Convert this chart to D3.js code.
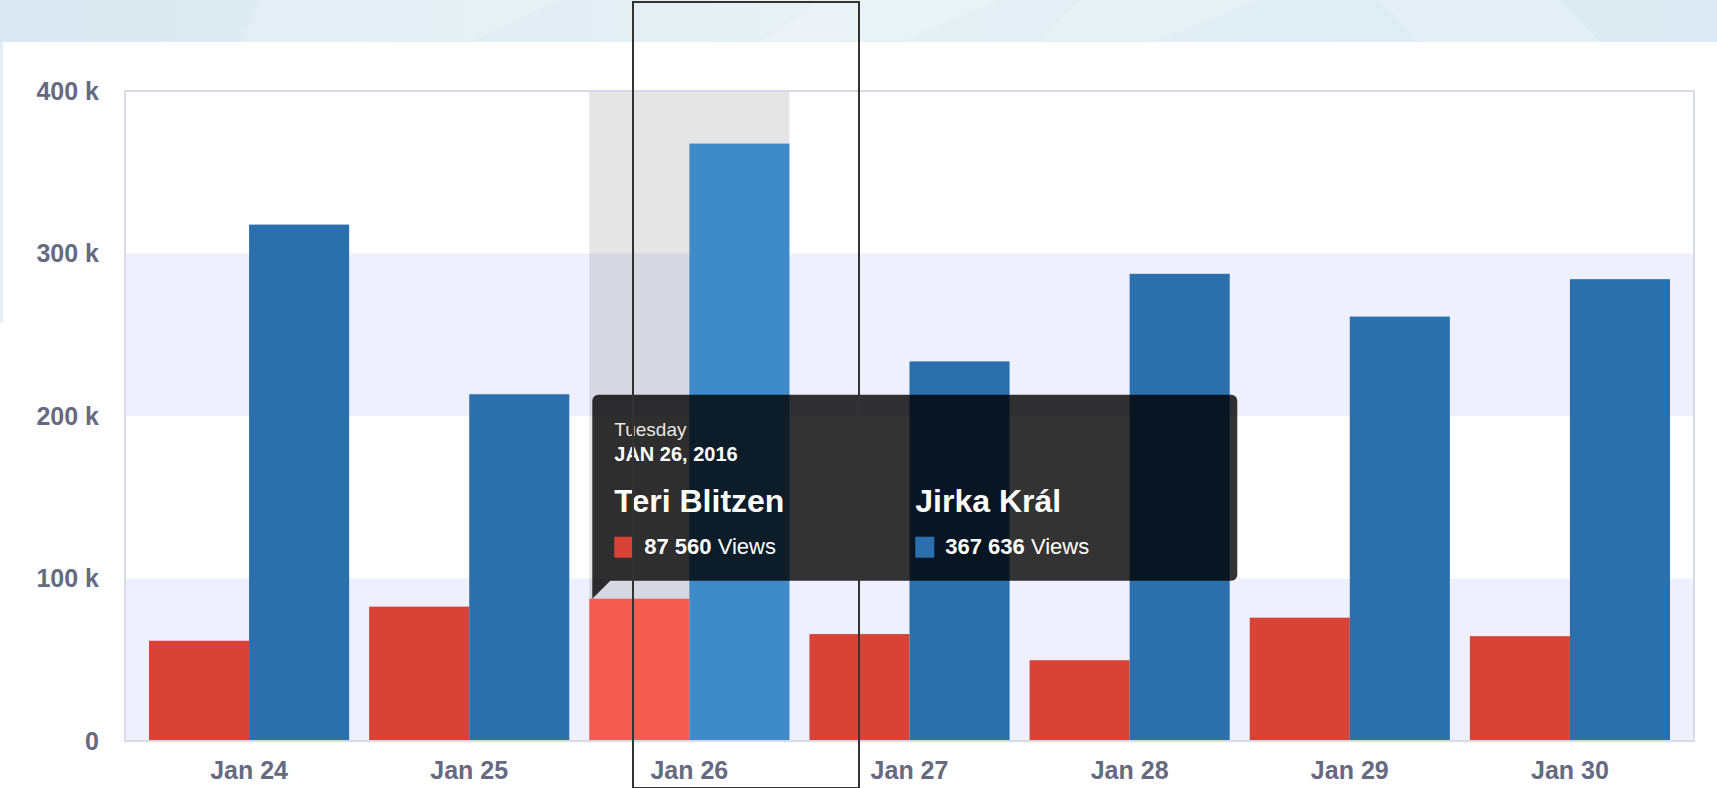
<!DOCTYPE html>
<html>
<head>
<meta charset="utf-8">
<script src="https://cdn.jsdelivr.net/npm/d3@7"></script>
<style>
    html, body { margin: 0; padding: 0; background: #fff; overflow: hidden; }
    svg { display: block; font-family: "Liberation Sans", Arial, Helvetica, sans-serif; }
</style>
</head>
<body>
<div id="chart"></div>
<script>
// Daily views per author
const days = ["Jan 24", "Jan 25", "Jan 26", "Jan 27", "Jan 28", "Jan 29", "Jan 30"];
const seriesNames = ["Teri Blitzen", "Jirka Král"];
const teriViews = [61700, 82700, 87560, 65800, 49700, 75900, 64500];
const jirkaViews = [317800, 213400, 367636, 233600, 287500, 261200, 284200];
const yTicks = [0, 100000, 200000, 300000, 400000];

// Hovered column and its tooltip header
const hoverIndex = 2;
const tooltipWeekday = "Tuesday";
const tooltipDate = "JAN 26, 2016";

const W = 1717, H = 788;
const plot = { left: 125, right: 1694, top: 91, bottom: 741 };
const colors = ["#d94337", "#2b70ad"];
const hoverColors = ["#f55b50", "#3f8bc9"];

const svg = d3.select("#chart").append("svg")
    .attr("width", W)
    .attr("height", H);

// Page banner at the top
const defs = svg.append("defs");
const grad = defs.append("linearGradient").attr("id", "banner")
    .attr("x1", "0%").attr("x2", "100%");
grad.append("stop").attr("offset", "0%").attr("stop-color", "#dae8f1");
grad.append("stop").attr("offset", "45%").attr("stop-color", "#e6f0f5");
grad.append("stop").attr("offset", "100%").attr("stop-color", "#dcebf3");
svg.append("rect").attr("x", 0).attr("y", 0).attr("width", W).attr("height", 42)
    .attr("fill", "url(#banner)");
[[260, 0, 560, 0, 470, 42, 240, 42], [820, 0, 1000, 0, 900, 42, 760, 42],
 [1080, 0, 1260, 0, 1150, 42, 1040, 42], [1380, 0, 1560, 0, 1600, 42, 1420, 42]]
    .forEach(p => {
        svg.append("polygon")
            .attr("points", `${p[0]},${p[1]} ${p[2]},${p[3]} ${p[4]},${p[5]} ${p[6]},${p[7]}`)
            .attr("fill", "#ffffff").attr("opacity", 0.18);
    });
svg.append("rect").attr("x", 0).attr("y", 42).attr("width", 3).attr("height", 280)
    .attr("fill", "#e3eef4");

// Scales
const x0 = d3.scaleBand()
    .domain(days)
    .range([139, 1680])
    .paddingInner(20 / 220)
    .paddingOuter(10 / 220);

const x1 = d3.scaleBand()
    .domain(seriesNames)
    .range([0, x0.bandwidth()]);

const y = d3.scaleLinear()
    .domain([0, 400000])
    .range([plot.bottom, plot.top]);

// Alternating plot bands
const g = svg.append("g");
d3.pairs(yTicks).forEach((pair, i) => {
    if (i % 2 === 0) {
        g.append("rect")
            .attr("x", plot.left)
            .attr("y", y(pair[1]))
            .attr("width", plot.right - plot.left)
            .attr("height", y(pair[0]) - y(pair[1]))
            .attr("fill", "#eef0fd");
    }
});

// Hover highlight
g.append("rect")
    .attr("x", x0(days[hoverIndex]))
    .attr("y", plot.top)
    .attr("width", x0.bandwidth())
    .attr("height", plot.bottom - plot.top)
    .attr("fill", "rgba(0,0,0,0.1)");

// Bars
const rows = days.map((d, i) => ({ day: d, i, values: [teriViews[i], jirkaViews[i]] }));
const groups = g.selectAll("g.day")
    .data(rows)
    .enter().append("g")
    .attr("class", "day")
    .attr("transform", d => `translate(${x0(d.day)},0)`);

groups.selectAll("rect")
    .data(d => d.values.map((v, k) => ({ v, k, hover: d.i === hoverIndex })))
    .enter().append("rect")
    .attr("x", d => x1(seriesNames[d.k]))
    .attr("y", d => y(d.v))
    .attr("width", x1.bandwidth())
    .attr("height", d => y(0) - y(d.v))
    .attr("fill", d => d.hover ? hoverColors[d.k] : colors[d.k]);

// Plot frame
svg.append("rect")
    .attr("x", plot.left)
    .attr("y", plot.top)
    .attr("width", plot.right - plot.left)
    .attr("height", plot.bottom - plot.top)
    .attr("fill", "none")
    .attr("stroke", "#d8dbe6")
    .attr("stroke-width", 2);

// Axes
const fmtK = d => d === 0 ? "0" : (d / 1000) + " k";
const yAxis = svg.append("g")
    .attr("transform", `translate(${plot.left},0)`)
    .call(d3.axisLeft(y).tickValues(yTicks).tickFormat(fmtK).tickSize(0).tickPadding(26));

const xAxis = svg.append("g")
    .attr("transform", `translate(0,${plot.bottom})`)
    .call(d3.axisBottom(x0).tickSize(0).tickPadding(20));

[yAxis, xAxis].forEach(a => {
    a.select(".domain").remove();
    a.selectAll("text")
        .attr("font-family", "'Liberation Sans', Arial, sans-serif")
        .attr("font-size", 25)
        .attr("font-weight", "bold")
        .attr("fill", "#666a80");
});

// Tooltip, anchored at the top-left corner of the hovered column
const fmtViews = v => d3.format(",")(v).replace(/,/g, " ");
const tipX = x0(days[hoverIndex]) + 3;
const tipY = y(teriViews[hoverIndex]);
const tw = 645, th = 186, r = 6, notch = 18;
const bx0 = tipX, bx1 = tipX + tw, by1 = tipY - notch, by0 = by1 - th;

const p = d3.path();
p.moveTo(bx0 + r, by0);
p.lineTo(bx1 - r, by0);
p.arcTo(bx1, by0, bx1, by0 + r, r);
p.lineTo(bx1, by1 - r);
p.arcTo(bx1, by1, bx1 - r, by1, r);
p.lineTo(bx0 + notch, by1);
p.lineTo(bx0, tipY);
p.lineTo(bx0, by0 + r);
p.arcTo(bx0, by0, bx0 + r, by0, r);
p.closePath();

const tip = svg.append("g");
tip.append("path").attr("d", p.toString()).attr("fill", "rgba(0,0,0,0.8)");

const tx = bx0 + 22;
tip.append("text")
    .attr("x", tx).attr("y", by0 + 41)
    .attr("font-size", 19).attr("fill", "#e8e8e8")
    .text(tooltipWeekday);
tip.append("text")
    .attr("x", tx).attr("y", by0 + 66)
    .attr("font-size", 20).attr("font-weight", "bold").attr("fill", "#ffffff")
    .text(tooltipDate);

const colGap = 301;
const values = [teriViews[hoverIndex], jirkaViews[hoverIndex]];
seriesNames.forEach((name, k) => {
    const cx = tx + k * colGap;
    tip.append("text")
        .attr("x", cx).attr("y", by0 + 117)
        .attr("font-size", 32).attr("font-weight", "bold").attr("fill", "#ffffff")
        .text(name);
    tip.append("rect")
        .attr("x", cx).attr("y", by0 + 142)
        .attr("width", 19).attr("height", 21)
        .attr("fill", colors[k]);
    const t = tip.append("text")
        .attr("x", cx + 30).attr("y", by0 + 159)
        .attr("font-size", 22).attr("fill", "#ffffff");
    t.append("tspan").attr("font-weight", "bold").text(fmtViews(values[k]));
    t.append("tspan").text(" Views");
});

// Annotation frame drawn over the chart
svg.append("rect")
    .attr("x", 633).attr("y", 2)
    .attr("width", 226).attr("height", 786)
    .attr("fill", "none")
    .attr("stroke", "#333")
    .attr("stroke-width", 2);
</script>
</body>
</html>
